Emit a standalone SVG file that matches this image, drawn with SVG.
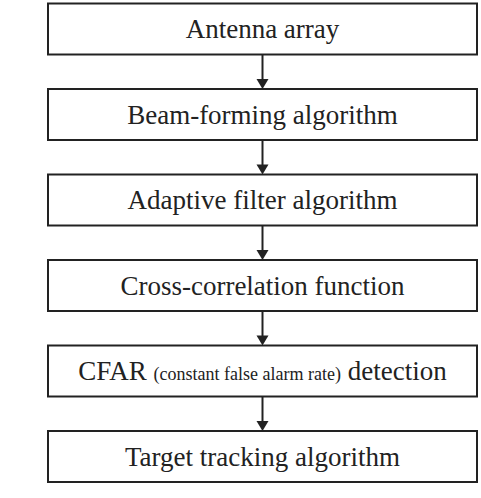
<svg xmlns="http://www.w3.org/2000/svg" width="481" height="498" viewBox="0 0 481 498">
<defs>
<style>
.box{fill:#fff;stroke:#222;stroke-width:2}
.lbl{font-family:"Liberation Serif","Times New Roman",serif;font-size:27px;fill:#222;text-anchor:middle}
.sm{font-size:18px}
.conn line{stroke:#222;stroke-width:2}
.conn polygon{fill:#222}
</style>
</defs>
<rect width="481" height="498" fill="#fff"/>
<g id="n1"><rect class="box" x="48" y="3.5" width="429" height="51"/><text class="lbl" x="262.5" y="38">Antenna array</text></g>
<g id="n2"><rect class="box" x="48" y="89" width="429" height="51"/><text class="lbl" x="262.5" y="123.5">Beam-forming algorithm</text></g>
<g id="n3"><rect class="box" x="48" y="174.5" width="429" height="51"/><text class="lbl" x="262.5" y="209">Adaptive filter algorithm</text></g>
<g id="n4"><rect class="box" x="48" y="260" width="429" height="51"/><text class="lbl" x="262.5" y="294.5">Cross-correlation function</text></g>
<g id="n5"><rect class="box" x="48" y="345.5" width="429" height="51"/><text class="lbl" x="262.5" y="380">CFAR <tspan class="sm">(constant false alarm rate)</tspan> detection</text></g>
<g id="n6"><rect class="box" x="48" y="431" width="429" height="51"/><text class="lbl" x="262.5" y="465.5">Target tracking algorithm</text></g>
<g class="conn" id="connectors">
<line x1="262.5" y1="54.5" x2="262.5" y2="80"/><polygon points="256.5,79 268.5,79 262.5,89"/>
<line x1="262.5" y1="140" x2="262.5" y2="165.5"/><polygon points="256.5,164.5 268.5,164.5 262.5,174.5"/>
<line x1="262.5" y1="225.5" x2="262.5" y2="251"/><polygon points="256.5,250 268.5,250 262.5,260"/>
<line x1="262.5" y1="311" x2="262.5" y2="336.5"/><polygon points="256.5,335.5 268.5,335.5 262.5,345.5"/>
<line x1="262.5" y1="396.5" x2="262.5" y2="422"/><polygon points="256.5,421 268.5,421 262.5,431"/>
</g>
</svg>
